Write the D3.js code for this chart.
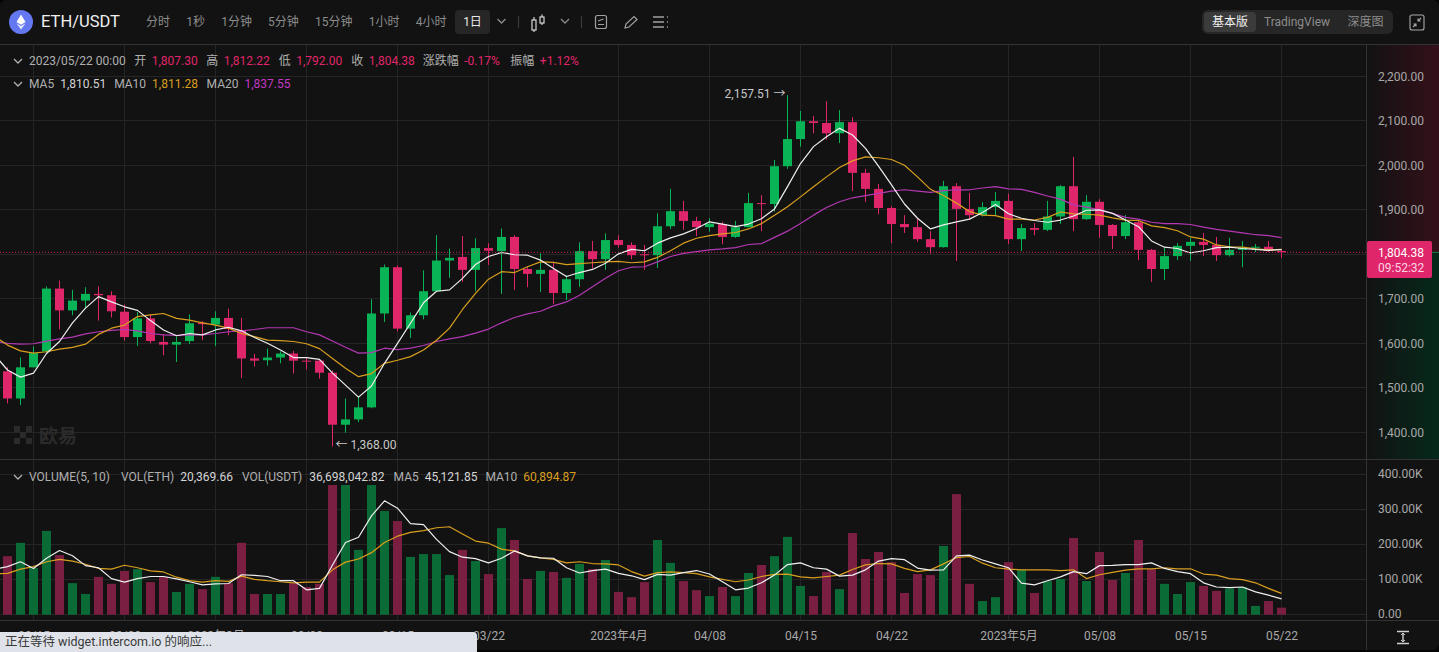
<!DOCTYPE html>
<html>
<head>
<meta charset="utf-8">
<title>ETH/USDT</title>
<script src="https://cdn.jsdelivr.net/npm/d3@7"></script>
<style type="text/css">
	html, body{
		margin: 0; padding: 0; background: #050505; overflow: hidden;
	}
	svg{
		display: block;
	}
	text{
		font-family: Roboto, "Noto Sans CJK SC", sans-serif; font-size: 12px;
	}
	.axis text{
		fill: #a8a8a8;
	}
	.axis path, .axis line{
		display: none;
	}
</style>
</head>
<body>
<div id="chart"></div>
<script type="text/javascript">
	// values, first candle is 2023-02-13
	const opens = [1537,1476,1546,1582,1723,1674,1696,1711,1708,1671,1614,1656,1603,1597,1605,1646,1642,1657,1629,1566,1562,1568,1577,1561,1561,1534,1417,1429,1456,1667,1771,1633,1663,1717,1786,1794,1765,1814,1807,1839,1767,1756,1765,1713,1744,1807,1789,1832,1821,1800,1798,1863,1897,1875,1861,1868,1839,1861,1915,1913,1998,2059,2099,2095,2072,2097,1983,1947,1904,1868,1861,1834,1816,1953,1902,1888,1906,1920,1834,1859,1855,1885,1953,1879,1918,1866,1841,1872,1810,1767,1796,1819,1828,1821,1798,1810,1815,1817,1807.3];
	const highs = [1546,1568,1593,1728,1741,1720,1726,1728,1717,1687,1670,1665,1621,1615,1665,1650,1672,1678,1657,1576,1588,1582,1583,1569,1564,1539,1476,1479,1699,1777,1775,1669,1764,1843,1813,1841,1836,1825,1858,1843,1771,1802,1783,1753,1827,1830,1847,1843,1827,1821,1892,1947,1920,1884,1881,1873,1875,1938,1933,2012,2157.51,2122,2111,2144,2124,2108,1992,1958,1908,1888,1879,1852,1965,1960,1938,1917,1940,1936,1868,1870,1920,1956,2019,1933,1924,1868,1888,1877,1812,1816,1825,1837,1848,1839,1837,1830,1823,1830,1812.22];
	const lows = [1465,1461,1546,1580,1631,1663,1678,1651,1658,1606,1594,1600,1573,1558,1598,1607,1594,1618,1522,1548,1550,1555,1532,1541,1521,1368,1399,1423,1454,1648,1627,1612,1654,1717,1747,1738,1717,1776,1711,1720,1726,1715,1688,1697,1727,1768,1765,1815,1789,1765,1769,1857,1855,1841,1851,1823,1837,1860,1852,1896,1992,2042,2072,2058,2050,1942,1918,1890,1825,1848,1828,1801,1815,1785,1877,1885,1888,1823,1807,1843,1852,1868,1852,1877,1837,1812,1834,1787,1738,1742,1787,1785,1796,1785,1795,1771,1805,1805,1792];
	const closes = [1476,1546,1578,1723,1674,1696,1711,1708,1672,1614,1656,1605,1597,1603,1645,1643,1657,1632,1566,1561,1568,1577,1561,1559,1534,1417,1429,1456,1667,1771,1633,1663,1717,1786,1792,1765,1814,1808,1839,1767,1756,1765,1713,1744,1807,1789,1832,1821,1798,1798,1863,1897,1875,1861,1869,1839,1861,1915,1913,1998,2059,2099,2095,2072,2097,1983,1947,1904,1868,1861,1834,1816,1953,1902,1888,1906,1920,1834,1859,1855,1885,1953,1879,1918,1866,1841,1872,1810,1767,1796,1819,1828,1821,1798,1810,1815,1817,1807.3,1804.38];
	const volumes = [167,205,133,239,170,90,59,108,88,125,130,93,108,65,88,73,108,90,205,59,59,59,90,79,88,370,370,185,370,296,267,165,173,173,113,185,153,116,247,213,102,125,122,105,145,130,156,65,50,93,213,148,96,70,53,79,53,119,142,167,222,82,53,122,73,233,159,179,150,62,116,113,196,344,88,39,50,150,128,62,96,102,219,96,179,99,119,213,130,88,59,93,82,68,75,78,25,39,20];
	// moving averages also hold one day before the first candle, it sits off the left edge
	const ma5 = [1574,1540,1524,1533,1577,1604,1646,1679,1705,1693,1682,1674,1651,1630,1617,1622,1619,1630,1636,1628,1613,1600,1585,1568,1568,1564,1533,1506,1479,1504,1555,1600,1645,1691,1717,1720,1746,1777,1795,1804,1799,1798,1787,1768,1750,1759,1766,1780,1801,1811,1808,1825,1837,1846,1858,1873,1868,1862,1868,1880,1902,1952,2004,2042,2064,2083,2068,2038,1998,1956,1913,1881,1857,1866,1873,1879,1894,1912,1891,1881,1876,1872,1877,1886,1899,1900,1892,1877,1862,1830,1816,1813,1803,1808,1815,1816,1813,1811,1809,1810.51];
	const ma10 = [1616,1596,1583,1578,1581,1587,1591,1598,1620,1634,1641,1660,1664,1667,1656,1652,1646,1641,1634,1622,1615,1607,1606,1604,1599,1588,1566,1544,1525,1532,1555,1562,1570,1585,1607,1634,1676,1712,1744,1761,1759,1772,1783,1782,1777,1779,1781,1783,1784,1781,1783,1793,1808,1825,1836,1842,1846,1849,1857,1869,1888,1907,1929,1952,1974,1995,2010,2019,2017,2013,2000,1974,1946,1932,1915,1896,1888,1887,1879,1879,1877,1883,1895,1891,1890,1888,1882,1877,1876,1864,1860,1853,1839,1834,1821,1817,1816,1812,1810,1811.28];
	const ma20 = [1605,1600,1598,1599,1605,1610,1614,1621,1626,1629,1631,1628,1622,1619,1618,1619,1619,1622,1626,1628,1631,1635,1635,1635,1626,1619,1605,1591,1578,1579,1589,1586,1589,1595,1604,1610,1615,1623,1632,1646,1658,1666,1672,1684,1693,1708,1727,1746,1763,1771,1772,1783,1795,1802,1806,1810,1812,1815,1822,1824,1838,1852,1869,1888,1905,1918,1927,1932,1937,1942,1945,1942,1939,1943,1945,1945,1949,1952,1947,1946,1939,1931,1924,1911,1906,1900,1892,1883,1879,1872,1869,1869,1867,1861,1856,1852,1848,1844,1842,1837.55];
	const volMa5 = [130,137,151,132,161,183,168,140,134,103,93,103,109,109,102,94,85,88,89,114,112,109,97,97,71,75,142,206,221,282,325,304,260,257,215,180,164,160,148,161,182,168,162,161,134,119,126,130,118,111,100,115,113,120,126,116,94,71,76,91,113,143,148,134,130,110,113,128,153,160,157,133,127,128,168,170,156,145,134,90,85,97,108,123,117,140,141,143,143,148,132,123,117,91,79,77,79,65,56,45.12];
	const volMa10 = [117,118,130,137,151,158,153,144,132,130,141,134,125,122,107,97,93,97,95,110,101,97,94,91,93,93,128,150,159,177,206,224,235,240,248,251,230,210,204,187,182,168,162,158,148,151,146,145,142,123,110,120,122,120,117,108,101,94,99,109,115,116,108,105,109,113,129,142,146,145,132,123,128,145,163,166,147,134,130,128,128,128,126,128,103,114,121,127,131,131,134,131,131,116,113,103,100,91,75,60.89];

	const priceTicks = [2200,2100,2000,1900,1800,1700,1600,1500,1400];
	const volumeTicks = [400,300,200,100,0];
	const timeTicks = ['2023-02-15','2023-02-22','2023-03-01','2023-03-08','2023-03-15','2023-03-22','2023-04-01','2023-04-08','2023-04-15','2023-04-22','2023-05-01','2023-05-08','2023-05-15','2023-05-22'];
	const timeLabels = ['02/15','02/22','2023年3月','03/08','03/15','03/22','2023年4月','04/08','04/15','04/22','2023年5月','05/08','05/15','05/22'];
	const tabs = ['分时','1秒','1分钟','5分钟','15分钟','1小时','4小时'];
	const lastPrice = 1804.38, highPrice = 2157.51, lowPrice = 1368;

	const RED = '#e0266b', GREEN = '#08b455', RED_DIM = '#7b1f42', GREEN_DIM = '#0b6b37';
	const TXT = '#b0b0b0', VAL = '#d4d4d4', LINE_W = '#efefef', LINE_O = '#d99f1f', LINE_P = '#b338b3';

	const parseDay = d3.utcParse('%Y-%m-%d');
	const days = d3.utcDay.range(parseDay('2023-02-13'), parseDay('2023-05-23'));
	const maDays = d3.utcDay.range(parseDay('2023-02-12'), parseDay('2023-05-23'));
	const W = 1439, H = 652, AXIS_X = 1366;

	const x = d3.scaleUtc().domain([days[0], days[days.length-1]]).range([7.5, 1281.5]);
	const y = d3.scaleLinear().domain([1400,2200]).range([432.3,76.3]);
	const yv = d3.scaleLinear().domain([0,400]).range([614.7,474.5]);

	const svg = d3.select('#chart').append('svg').attr('width',W).attr('height',H);
	const defs = svg.append('defs');
	defs.append('clipPath').attr('id','plot').append('rect').attr('x',0).attr('y',45).attr('width',AXIS_X).attr('height',575);
	const fade = (id,color)=>{
		const g = defs.append('linearGradient').attr('id',id);
		g.append('stop').attr('offset','0%').attr('stop-color',color).attr('stop-opacity',0);
		g.append('stop').attr('offset','100%').attr('stop-color',color).attr('stop-opacity',1);
	};
	fade('fadeRed','#34101a');
	fade('fadeGreen','#05291b');

	svg.append('rect').attr('width',W).attr('height',650).attr('rx',6).attr('fill','#121212');

	// right axis tint, split at the last price
	svg.append('rect').attr('x',AXIS_X).attr('y',45).attr('width',W-AXIS_X).attr('height',y(lastPrice)-45).attr('fill','url(#fadeRed)');
	svg.append('rect').attr('x',AXIS_X).attr('y',y(lastPrice)).attr('width',W-AXIS_X).attr('height',459-y(lastPrice)).attr('fill','url(#fadeGreen)');
	svg.append('line').attr('x1',AXIS_X).attr('x2',W).attr('y1',y(lastPrice)).attr('y2',y(lastPrice)).attr('stroke','#1d7a4c');

	// grid
	const grid = svg.append('g').attr('stroke','#252525').attr('shape-rendering','crispEdges');
	grid.selectAll('.h').data(priceTicks).enter().append('line')
		.attr('x1',0).attr('x2',AXIS_X).attr('y1',d=>y(d)).attr('y2',d=>y(d));
	grid.selectAll('.hv').data(volumeTicks).enter().append('line')
		.attr('x1',0).attr('x2',AXIS_X).attr('y1',d=>yv(d)).attr('y2',d=>yv(d));
	grid.selectAll('.v').data(timeTicks).enter().append('line')
		.attr('x1',d=>x(parseDay(d))).attr('x2',d=>x(parseDay(d))).attr('y1',45).attr('y2',620);

	// frame lines
	const frame = svg.append('g').attr('stroke','#333').attr('shape-rendering','crispEdges');
	frame.append('line').attr('x1',0).attr('x2',W).attr('y1',44).attr('y2',44);
	frame.append('line').attr('x1',0).attr('x2',W).attr('y1',459).attr('y2',459);
	frame.append('line').attr('x1',0).attr('x2',W).attr('y1',620).attr('y2',620);
	frame.append('line').attr('x1',AXIS_X).attr('x2',AXIS_X).attr('y1',44).attr('y2',650);

	// watermark
	const wm = svg.append('g').attr('transform','translate(14,426)').attr('fill','#2b2b2b');
	[[0,0],[12,0],[6,6],[0,12],[12,12]].forEach(s=>{
		wm.append('rect').attr('x',s[0]).attr('y',s[1]).attr('width',6).attr('height',6);
	});
	wm.append('text').attr('x',25).attr('y',16.5).style('font-size','19px').style('font-weight','700').text('欧易');

	const plot = svg.append('g').attr('clip-path','url(#plot)');

	// volume bars
	plot.append('g').selectAll('rect').data(volumes).enter().append('rect')
		.attr('x',(d,i)=>x(days[i])-4.5).attr('width',9)
		.attr('y',d=>yv(d)).attr('height',d=>yv(0)-yv(d))
		.attr('fill',(d,i)=>closes[i] < opens[i] ? RED_DIM : GREEN_DIM);

	// candles
	const isDown = i=>closes[i] < opens[i];
	const candles = plot.append('g').selectAll('g').data(days).enter().append('g')
		.attr('fill',(d,i)=>isDown(i) ? RED : GREEN)
		.attr('stroke',(d,i)=>isDown(i) ? RED : GREEN);
	candles.append('line')
		.attr('x1',d=>x(d)).attr('x2',d=>x(d))
		.attr('y1',(d,i)=>y(highs[i])).attr('y2',(d,i)=>y(lows[i]))
		.attr('stroke-width',1);
	candles.append('rect')
		.attr('x',d=>x(d)-4.5).attr('width',9)
		.attr('y',(d,i)=>y(Math.max(opens[i],closes[i])))
		.attr('height',(d,i)=>Math.max(1,Math.abs(y(opens[i])-y(closes[i]))))
		.attr('stroke','none');

	// moving averages
	const drawLine = (values,scale,color)=>{
		const line = d3.line().x((d,i)=>x(maDays[i])).y(d=>scale(d));
		plot.append('path').datum(values)
			.attr('fill','none').attr('stroke',color).attr('stroke-width',1.2)
			.attr('stroke-linejoin','round').attr('d',line);
	};
	drawLine(ma20,y,LINE_P);
	drawLine(ma10,y,LINE_O);
	drawLine(ma5,y,LINE_W);
	drawLine(volMa10,yv,LINE_O);
	drawLine(volMa5,yv,LINE_W);

	// last price dotted line
	svg.append('line').attr('x1',0).attr('x2',AXIS_X).attr('y1',y(lastPrice)).attr('y2',y(lastPrice))
		.attr('stroke',RED).attr('stroke-dasharray','1,2').attr('stroke-opacity',0.85);

	// high / low marks
	svg.append('text').attr('x',x(days[60])-2).attr('y',y(highPrice)-1).attr('dy','.32em').attr('text-anchor','end')
		.attr('fill','#c8c8c8').text(d3.format(',.2f')(highPrice)+' →');
	svg.append('text').attr('x',x(days[25])+3).attr('y',y(lowPrice)-1).attr('dy','.32em')
		.attr('fill','#c8c8c8').text('← '+d3.format(',.2f')(lowPrice));

	// axes
	svg.append('g').attr('class','axis').attr('transform',`translate(${AXIS_X},0)`)
		.call(d3.axisRight(y).tickValues(priceTicks.filter(d=>d!==1800)).tickSize(0).tickPadding(12).tickFormat(d3.format(',.2f')));
	svg.append('g').attr('class','axis').attr('transform',`translate(${AXIS_X},-1)`)
		.call(d3.axisRight(yv).tickValues(volumeTicks).tickSize(0).tickPadding(12).tickFormat(d=>d===0 ? '0.00' : d3.format('.2f')(d)+'K'));
	svg.append('g').attr('class','axis').attr('transform','translate(0,620)')
		.call(d3.axisBottom(x).tickValues(timeTicks.map(parseDay)).tickSize(0).tickPadding(11)
			.tickFormat((d,i)=>timeLabels[i]));
	svg.selectAll('.axis path').remove();

	// price box
	svg.append('rect').attr('x',AXIS_X+1).attr('y',241).attr('width',65).attr('height',37).attr('rx',2).attr('fill',RED);
	svg.append('text').attr('x',1378).attr('y',256.5).attr('fill','#fff').text(d3.format(',.2f')(lastPrice));
	svg.append('text').attr('x',1378).attr('y',271.5).attr('fill','#fbd3e1').text('09:52:32');

	const chevron = (cx,cy,color)=>{
		svg.append('path').attr('d',`M${cx-4} ${cy-2}L${cx} ${cy+2}L${cx+4} ${cy-2}`)
			.attr('fill','none').attr('stroke',color).attr('stroke-width',1.3);
	};

	// legend rows: each item is text, color, gap after it
	const legendRow = (top,start,items)=>{
		let cx = start;
		items.forEach(it=>{
			const t = svg.append('text').attr('x',cx).attr('y',top).attr('fill',it[1]).text(it[0]);
			cx += t.node().getComputedTextLength() + it[2];
		});
	};
	chevron(18,61,TXT);
	legendRow(65,29,[
		['2023/05/22 00:00',TXT,8.5],['开',TXT,5.5],['1,807.30',RED,8.5],['高',TXT,5.5],['1,812.22',RED,9],
		['低',TXT,5.5],['1,792.00',RED,9],['收',TXT,5.5],['1,804.38',RED,8],['涨跌幅',TXT,5.5],['-0.17%',RED,10.5],
		['振幅',TXT,5.5],['+1.12%',RED,0]
	]);
	chevron(18,84,TXT);
	legendRow(88,29,[
		['MA5',TXT,6],['1,810.51',VAL,8],['MA10',TXT,6],['1,811.28',LINE_O,8.5],['MA20',TXT,6],['1,837.55','#c238c2',0]
	]);
	chevron(18,477,TXT);
	legendRow(481,29,[
		['VOLUME(5, 10)',TXT,8],['VOL(ETH)',TXT,6],['20,369.66',VAL,8],['VOL(USDT)',TXT,6],['36,698,042.82',VAL,9],
		['MA5',TXT,6],['45,121.85',VAL,8],['MA10',TXT,6],['60,894.87',LINE_O,0]
	].map((it,i)=>i===0 ? [it[0],it[1],11] : i===2 ? [it[0],it[1],9] : i===3 ? [it[0],it[1],7] : it));

	// toolbar
	svg.append('circle').attr('cx',21).attr('cy',22).attr('r',12).attr('fill','#6478f2');
	svg.append('path').attr('d','M21 14.5L16.5 22L21 24.8L25.5 22Z').attr('fill','#fff');
	svg.append('path').attr('d','M16.5 23.2L21 29.5L25.5 23.2L21 26Z').attr('fill','#fff').attr('fill-opacity',0.85);
	svg.append('text').attr('x',41).attr('y',27).attr('fill','#f0f0f0').style('font-size','16.5px').text('ETH/USDT');

	let tx = 146;
	tabs.forEach(t=>{
		const n = svg.append('text').attr('x',tx).attr('y',26).attr('fill','#8c8c8c').text(t);
		tx += n.node().getComputedTextLength() + 16.2;
	});
	svg.append('rect').attr('x',455).attr('y',10).attr('width',35).attr('height',24).attr('rx',4).attr('fill','#262626');
	svg.append('text').attr('x',472.5).attr('y',26).attr('text-anchor','middle').attr('fill','#e8e8e8').text('1日');
	chevron(501.5,21,'#8c8c8c');
	chevron(565,21,'#8c8c8c');

	const icons = svg.append('g').attr('fill','none').attr('stroke','#a0a0a0').attr('stroke-width',1.2);
	icons.append('line').attr('x1',518.5).attr('x2',518.5).attr('y1',16).attr('y2',28).attr('stroke','#3a3a3a');
	icons.append('line').attr('x1',581.5).attr('x2',581.5).attr('y1',16).attr('y2',28).attr('stroke','#3a3a3a');
	// candle icon
	icons.append('rect').attr('x',532).attr('y',20).attr('width',4).attr('height',10).attr('stroke','#d8d8d8');
	icons.append('rect').attr('x',540).attr('y',17).attr('width',4).attr('height',6).attr('stroke','#d8d8d8');
	icons.append('path').attr('d','M534 17V20M534 30V32M542 14.5V17M542 23V25').attr('stroke','#d8d8d8');
	// note icon
	icons.append('rect').attr('x',595.5).attr('y',15.5).attr('width',11).attr('height',13).attr('rx',2);
	icons.append('path').attr('d','M598 24.5H604M598 21L603.5 19');
	// pencil
	icons.append('path').attr('d','M625 28L626 24L634 16.5L637 19.5L629 27Z');
	// list
	icons.append('path').attr('d','M653 17H664M653 22H664M653 27H664').attr('stroke-width',1.6);
	icons.append('path').attr('d','M667 17H668M667 22H668M667 27H668').attr('stroke-width',1.6);

	// version switch
	svg.append('rect').attr('x',1202).attr('y',10).attr('width',191).attr('height',24).attr('rx',6).attr('fill','#262626');
	svg.append('rect').attr('x',1204).attr('y',12).attr('width',52).attr('height',20).attr('rx',4).attr('fill','#3b3b3b');
	svg.append('text').attr('x',1230).attr('y',26).attr('text-anchor','middle').attr('fill','#f0f0f0').text('基本版');
	svg.append('text').attr('x',1297).attr('y',26).attr('text-anchor','middle').attr('fill','#8c8c8c').text('TradingView');
	svg.append('text').attr('x',1365.5).attr('y',26).attr('text-anchor','middle').attr('fill','#8c8c8c').text('深度图');
	const shrink = svg.append('g').attr('fill','none').attr('stroke','#a8a8a8').attr('stroke-width',1.1);
	shrink.append('rect').attr('x',1410).attr('y',15).attr('width',14).attr('height',15).attr('rx',2);
	shrink.append('path').attr('d','M1421 18L1418 21M1418 18.5V21H1420.5M1413 27L1416 24M1416 26.5V24H1413.5');

	// bottom right scale icon
	const scaleIcon = svg.append('g').attr('stroke','#d0d0d0').attr('stroke-width',1.4).attr('fill','none');
	scaleIcon.append('path').attr('d','M1397 631.5H1409M1397 643.5H1409M1403 633V642');
	scaleIcon.append('path').attr('d','M1401 635L1403 633L1405 635M1401 640L1403 642L1405 640').attr('stroke-width',1);

	// browser status bar over the labels
	svg.append('path').attr('d','M0 632H473Q477 632 477 636V652H0Z').attr('fill','#dfe3e9');
	svg.append('text').attr('x',5).attr('y',646).attr('fill','#3a3a3a').style('font-size','12.5px').text('正在等待 widget.intercom.io 的响应...');
</script>
</body>
</html>
